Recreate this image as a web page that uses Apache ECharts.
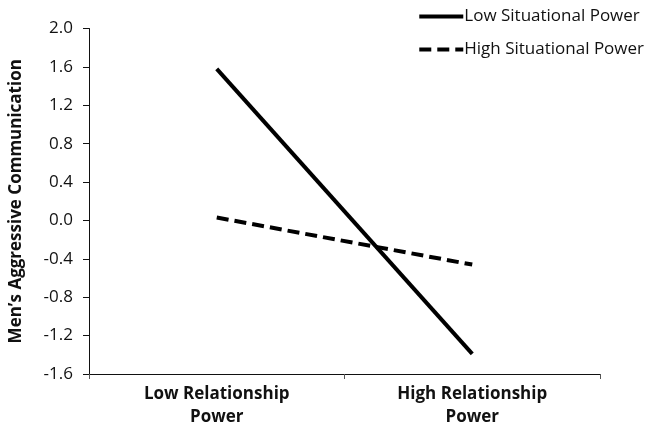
<!DOCTYPE html>
<html>
<head>
<meta charset="utf-8">
<script src="https://cdn.jsdelivr.net/npm/echarts@6/dist/echarts.min.js"></script>
<style>html,body{margin:0;padding:0;background:#fff}#c{width:654px;height:430px}</style>
</head>
<body>
<div id="c"></div>
<script>
const categories = ['Low Relationship\nPower', 'High Relationship\nPower'];
const seriesNames = ['Low Situational Power', 'High Situational Power'];
const lowSituational = [1.58, -1.39];
const highSituational = [0.03, -0.46];
const yTicks = { min: -1.6, max: 2.0, interval: 0.4 };
const yTitle = 'Men\u2019s Aggressive Communication';

const FONT = 'Open Sans';
const chart = echarts.init(document.getElementById('c'), null, { renderer: 'canvas' });
chart.setOption({
  animation: false,
  backgroundColor: '#fff',
  grid: { left: 88, right: 54, top: 28.5, bottom: 56, containLabel: false },
  legend: {
    orient: 'vertical',
    right: 5,
    top: 3,
    itemWidth: 44,
    itemHeight: 14,
    itemGap: 16,
    itemStyle: { opacity: 0 },
    lineStyle: { width: 4 },
    textStyle: { fontFamily: FONT, fontSize: 17, color: '#111', padding: [0, 0, 0, -4] },
    data: seriesNames
  },
  xAxis: {
    type: 'category',
    data: categories,
    boundaryGap: true,
    axisLine: { onZero: false, lineStyle: { color: '#111', width: 1 } },
    axisTick: { show: true, length: 5, alignWithLabel: false, lineStyle: { color: '#555' } },
    axisLabel: { fontFamily: FONT, fontSize: 17, fontWeight: 'bold', color: '#111', lineHeight: 23, margin: 9 }
  },
  yAxis: {
    type: 'value',
    min: yTicks.min,
    max: yTicks.max,
    interval: yTicks.interval,
    name: yTitle,
    nameLocation: 'middle',
    nameRotate: 90,
    nameGap: 64,
    nameTextStyle: { fontFamily: FONT, fontSize: 17, fontWeight: 'bold', color: '#111' },
    axisLine: { show: true, lineStyle: { color: '#111', width: 1 } },
    axisTick: { show: true, length: 6, lineStyle: { color: '#111' } },
    splitLine: { show: false },
    axisLabel: {
      fontFamily: FONT, fontSize: 17, color: '#111', margin: 16,
      formatter: v => v.toFixed(1)
    }
  },
  series: [
    {
      name: seriesNames[0], type: 'line', data: lowSituational,
      symbol: 'none', lineStyle: { color: '#000', width: 4, type: 'solid' },
      itemStyle: { color: '#000' }
    },
    {
      name: seriesNames[1], type: 'line', data: highSituational,
      symbol: 'none', lineStyle: { color: '#000', width: 4, type: [12, 6] },
      itemStyle: { color: '#000' }
    }
  ]
});
</script>
</body>
</html>
